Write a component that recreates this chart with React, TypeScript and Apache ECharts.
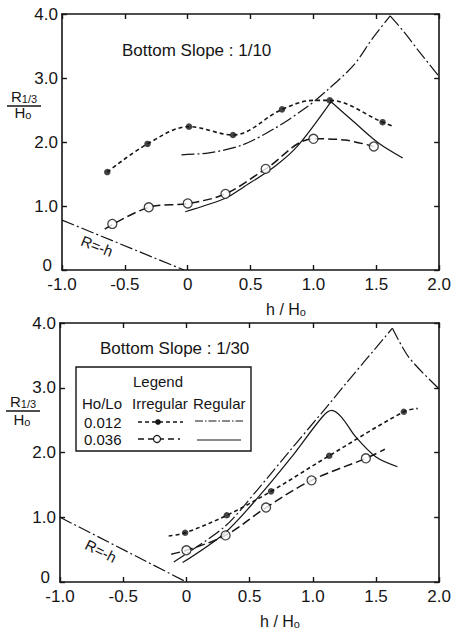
import React, { useEffect, useRef } from "react";
import * as echarts from "echarts";

// ---- axes ----
const X_MIN = -1.0;
const X_MAX = 2.0;
const X_STEP = 0.5;
const Y_MIN = 0;
const Y_MAX = 4.0;
const Y_STEP = 1.0;

// ---- top panel: Bottom Slope 1/10 ----
const topTitle = "Bottom Slope : 1/10";
const topIrr012Points = [[-0.64, 1.53], [-0.32, 1.97], [0.01, 2.24], [0.36, 2.11], [0.75, 2.51], [1.13, 2.65], [1.55, 2.31]];
const topIrr012Curve = [[-0.64, 1.53], [-0.32, 1.97], [0.01, 2.24], [0.36, 2.11], [0.75, 2.51], [1.0, 2.65], [1.13, 2.65], [1.55, 2.31], [1.64, 2.24]];
const topIrr036Points = [[-0.60, 0.72], [-0.31, 0.98], [0.0, 1.04], [0.30, 1.19], [0.62, 1.58], [1.0, 2.05], [1.48, 1.93]];
const topIrr036Curve = [[-0.66, 0.64], [-0.31, 0.98], [0.0, 1.04], [0.30, 1.19], [0.62, 1.58], [1.0, 2.05], [1.25, 2.03], [1.48, 1.93]];
const topReg012Rise = [[-0.05, 1.80], [0.17, 1.83], [0.43, 1.95], [0.69, 2.21], [0.95, 2.55], [1.11, 2.81], [1.32, 3.20], [1.47, 3.62], [1.61, 3.97]];
const topReg012Fall = [[1.61, 3.97], [1.72, 3.72], [1.83, 3.44], [2.0, 3.02]];
const topReg036Rise = [[-0.02, 0.91], [0.30, 1.12], [0.44, 1.29], [0.70, 1.63], [0.88, 1.95], [1.14, 2.63]];
const topReg036Fall = [[1.14, 2.63], [1.33, 2.30], [1.52, 1.98], [1.71, 1.75]];
const topRh = [[-1.0, 0.78], [-0.03, 0.0]];

// ---- bottom panel: Bottom Slope 1/30 ----
const bottomTitle = "Bottom Slope : 1/30";
const botIrr012Points = [[-0.01, 0.76], [0.32, 1.03], [0.67, 1.40], [1.13, 1.95], [1.72, 2.63]];
const botIrr012Curve = [[-0.14, 0.71], [-0.01, 0.76], [0.32, 1.03], [0.67, 1.40], [1.13, 1.95], [1.72, 2.63], [1.83, 2.68]];
const botIrr036Points = [[0.0, 0.49], [0.31, 0.72], [0.63, 1.15], [0.99, 1.57], [1.42, 1.91]];
const botIrr036Curve = [[-0.12, 0.43], [0.0, 0.49], [0.31, 0.72], [0.63, 1.15], [0.99, 1.57], [1.42, 1.91], [1.57, 2.05]];
const botReg012Rise = [[-0.10, 0.31], [0.30, 0.85], [0.56, 1.42], [0.82, 2.03], [1.13, 2.75], [1.26, 3.06], [1.63, 3.92]];
const botReg012Fall = [[1.63, 3.92], [1.76, 3.47], [1.99, 3.0]];
const botReg036 = [[-0.03, 0.30], [0.30, 0.75], [0.56, 1.29], [0.82, 1.90], [1.08, 2.56], [1.15, 2.65], [1.23, 2.54], [1.34, 2.24], [1.50, 1.93], [1.67, 1.78]];
const botRh = [[-1.0, 1.0], [0.0, 0.0]];

// ---- legend texts ----
const legendTitle = "Legend";
const legendHeaders = ["Ho/Lo", "Irregular", "Regular"];
const legendRows = ["0.012", "0.036"];

const FONT = "'Liberation Sans', Arial, sans-serif";
const INK = "#151515";

const DASH_IRR012 = [4, 3];
const DASH_IRR036 = [9, 4];
const DASH_REG012 = [13, 3, 2, 3];

const fmtX = (v: number) => (Math.abs(v) < 1e-9 ? "0" : v.toFixed(1));
const fmtY = (v: number) => (Math.abs(v) < 1e-9 ? "{z|0}" : v.toFixed(1));

function xAxes(grid: number) {
  const base = {
    gridIndex: grid,
    type: "value",
    min: X_MIN,
    max: X_MAX,
    interval: X_STEP,
    splitLine: { show: false },
    axisLine: { show: true, onZero: false, lineStyle: { color: INK, width: 1.6 } },
    axisTick: { show: true, inside: true, length: 5, lineStyle: { color: INK, width: 1.4 } },
  };
  return [
    {
      ...base,
      position: "bottom",
      axisLabel: { show: true, formatter: fmtX, color: INK, fontFamily: FONT, fontSize: 17, margin: 6 },
    },
    { ...base, position: "top", axisLabel: { show: false } },
  ];
}

function yAxes(grid: number) {
  const base = {
    gridIndex: grid,
    type: "value",
    min: Y_MIN,
    max: Y_MAX,
    interval: Y_STEP,
    splitLine: { show: false },
    axisLine: { show: true, onZero: false, lineStyle: { color: INK, width: 1.6 } },
    axisTick: { show: true, inside: true, length: 5, lineStyle: { color: INK, width: 1.4 } },
  };
  return [
    {
      ...base,
      position: "left",
      axisLabel: {
        show: true,
        formatter: fmtY,
        color: INK,
        fontFamily: FONT,
        fontSize: 17,
        margin: 4,
        rich: { z: { fontFamily: FONT, fontSize: 17, color: INK, padding: [0, 6, 9, 0] } },
      },
    },
    { ...base, position: "right", axisLabel: { show: false } },
  ];
}

function curve(name: string, data: number[][], ai: number, dash: any, width: number, smooth: number | boolean) {
  return {
    name,
    type: "line",
    xAxisIndex: ai,
    yAxisIndex: ai,
    data,
    symbol: "none",
    showSymbol: false,
    smooth,
    silent: true,
    lineStyle: { color: INK, width, type: dash },
    z: 2,
  };
}

function dots(name: string, data: number[][], ai: number, open: boolean) {
  return {
    name,
    type: "scatter",
    xAxisIndex: ai,
    yAxisIndex: ai,
    data,
    symbol: "circle",
    symbolSize: open ? 9 : 6.5,
    silent: true,
    itemStyle: open ? { color: "#fff", borderColor: INK, borderWidth: 1.3 } : { color: INK },
    z: 5,
  };
}

function txt(text: string, x: number, y: number, size: number, align = "left", extra: any = {}) {
  return {
    type: "text",
    x,
    y,
    silent: true,
    ...extra,
    style: {
      text,
      fill: INK,
      fontFamily: FONT,
      fontSize: size,
      align,
      verticalAlign: "middle",
      ...(extra.style || {}),
    },
  };
}

function yName(cx: number, yTop: number, yLine: number, yBot: number) {
  return [
    {
      type: "text",
      x: cx,
      y: yTop,
      silent: true,
      style: {
        text: "{a|R}{b|1/3}",
        align: "center",
        verticalAlign: "middle",
        fill: INK,
        rich: {
          a: { fontFamily: FONT, fontSize: 15, fill: INK, lineHeight: 12, verticalAlign: "bottom" },
          b: { fontFamily: FONT, fontSize: 11, fill: INK, lineHeight: 12, verticalAlign: "bottom" },
        },
      },
    },
    {
      type: "line",
      silent: true,
      shape: { x1: cx - 17, y1: yLine, x2: cx + 17, y2: yLine },
      style: { stroke: INK, lineWidth: 1.5 },
    },
    {
      type: "text",
      x: cx - 1,
      y: yBot,
      silent: true,
      style: {
        text: "{a|H}{b|o}",
        align: "center",
        verticalAlign: "middle",
        fill: INK,
        rich: {
          a: { fontFamily: FONT, fontSize: 15, fill: INK, lineHeight: 12, verticalAlign: "bottom" },
          b: { fontFamily: FONT, fontSize: 11, fill: INK, lineHeight: 12, verticalAlign: "bottom" },
        },
      },
    },
  ];
}

function xName(cx: number, cy: number) {
  return {
    type: "text",
    x: cx,
    y: cy,
    silent: true,
    style: {
      text: "{a|h / H}{b|o}",
      align: "center",
      verticalAlign: "middle",
      fill: INK,
      rich: {
        a: { fontFamily: FONT, fontSize: 16, fill: INK, lineHeight: 18, verticalAlign: "bottom" },
        b: { fontFamily: FONT, fontSize: 11, fill: INK, lineHeight: 18, verticalAlign: "bottom" },
      },
    },
  };
}

function legendGraphic() {
  const els: any[] = [];
  els.push({
    type: "rect",
    silent: true,
    shape: { x: 76, y: 367, width: 175, height: 84 },
    style: { fill: "#fff", stroke: INK, lineWidth: 1.4 },
    z: 10,
  });
  els.push({ ...txt(legendTitle, 158, 381, 15, "center"), z: 11 });
  els.push({ ...txt(legendHeaders[0], 82, 403, 15, "left"), z: 11 });
  els.push({ ...txt(legendHeaders[1], 132, 403, 15, "left"), z: 11 });
  els.push({ ...txt(legendHeaders[2], 193, 403, 15, "left"), z: 11 });
  els.push({ ...txt(legendRows[0], 84, 422, 15, "left"), z: 11 });
  els.push({ ...txt(legendRows[1], 84, 439, 15, "left"), z: 11 });
  // irregular 0.012 sample
  els.push({ type: "line", silent: true, z: 11, shape: { x1: 138, y1: 422, x2: 183, y2: 422 }, style: { stroke: INK, lineWidth: 1.5, lineDash: DASH_IRR012 } });
  els.push({ type: "circle", silent: true, z: 12, shape: { cx: 158, cy: 422, r: 2.8 }, style: { fill: INK } });
  // irregular 0.036 sample
  els.push({ type: "line", silent: true, z: 11, shape: { x1: 138, y1: 439, x2: 180, y2: 439 }, style: { stroke: INK, lineWidth: 1.5, lineDash: [6, 4] } });
  els.push({ type: "circle", silent: true, z: 12, shape: { cx: 157, cy: 439, r: 3.5 }, style: { fill: "#fff", stroke: INK, lineWidth: 1.2 } });
  // regular 0.012 sample
  els.push({ type: "line", silent: true, z: 11, shape: { x1: 195, y1: 421, x2: 243, y2: 421 }, style: { stroke: INK, lineWidth: 1.1, lineDash: [8, 2, 1.5, 2] } });
  // regular 0.036 sample
  els.push({ type: "line", silent: true, z: 11, shape: { x1: 197, y1: 440, x2: 241, y2: 440 }, style: { stroke: INK, lineWidth: 1.2 } });
  return els;
}

export default function App() {
  const ref = useRef<HTMLDivElement>(null);

  useEffect(() => {
    document.body.style.margin = "0";
    if (!ref.current) return;
    const chart = echarts.init(ref.current, null, { renderer: "svg" });
    const option: any = {
      animation: false,
      backgroundColor: "#fff",
      grid: [
        { left: 62, top: 14, width: 384, height: 256 },
        { left: 60, top: 323, width: 385, height: 259 },
      ],
      xAxis: [...xAxes(0), ...xAxes(1)],
      yAxis: [...yAxes(0), ...yAxes(1)],
      series: [
        // top
        curve("R=-h top", topRh, 0, DASH_REG012, 1.2, false),
        curve("Regular 0.012 top rise", topReg012Rise, 0, DASH_REG012, 1.2, 0.3),
        curve("Regular 0.012 top fall", topReg012Fall, 0, DASH_REG012, 1.2, 0.3),
        curve("Regular 0.036 top rise", topReg036Rise, 0, "solid", 1.2, 0.3),
        curve("Regular 0.036 top fall", topReg036Fall, 0, "solid", 1.2, 0.3),
        curve("Irregular 0.012 top", topIrr012Curve, 0, DASH_IRR012, 1.6, 0.35),
        curve("Irregular 0.036 top", topIrr036Curve, 0, DASH_IRR036, 1.5, 0.35),
        dots("Irregular 0.012 top pts", topIrr012Points, 0, false),
        dots("Irregular 0.036 top pts", topIrr036Points, 0, true),
        // bottom
        curve("R=-h bottom", botRh, 2, DASH_REG012, 1.2, false),
        curve("Regular 0.012 bottom rise", botReg012Rise, 2, DASH_REG012, 1.2, 0.3),
        curve("Regular 0.012 bottom fall", botReg012Fall, 2, DASH_REG012, 1.2, 0.3),
        curve("Regular 0.036 bottom", botReg036, 2, "solid", 1.2, 0.3),
        curve("Irregular 0.012 bottom", botIrr012Curve, 2, DASH_IRR012, 1.6, 0.35),
        curve("Irregular 0.036 bottom", botIrr036Curve, 2, DASH_IRR036, 1.5, 0.35),
        dots("Irregular 0.012 bottom pts", botIrr012Points, 2, false),
        dots("Irregular 0.036 bottom pts", botIrr036Points, 2, true),
      ],
      graphic: [
        txt(topTitle, 122, 50, 17, "left"),
        txt(bottomTitle, 100, 348, 17, "left"),
        ...yName(24, 98, 106, 114),
        ...yName(23, 403, 411, 421),
        xName(286, 308),
        xName(280, 620),
        txt("R=-h", 97, 246, 15, "center", { rotation: -0.38 }),
        txt("R=-h", 101, 551, 15, "center", { rotation: -0.46 }),
        ...legendGraphic(),
      ],
    };
    chart.setOption(option);
    return () => chart.dispose();
  }, []);

  return <div ref={ref} style={{ width: 454, height: 630 }} />;
}
